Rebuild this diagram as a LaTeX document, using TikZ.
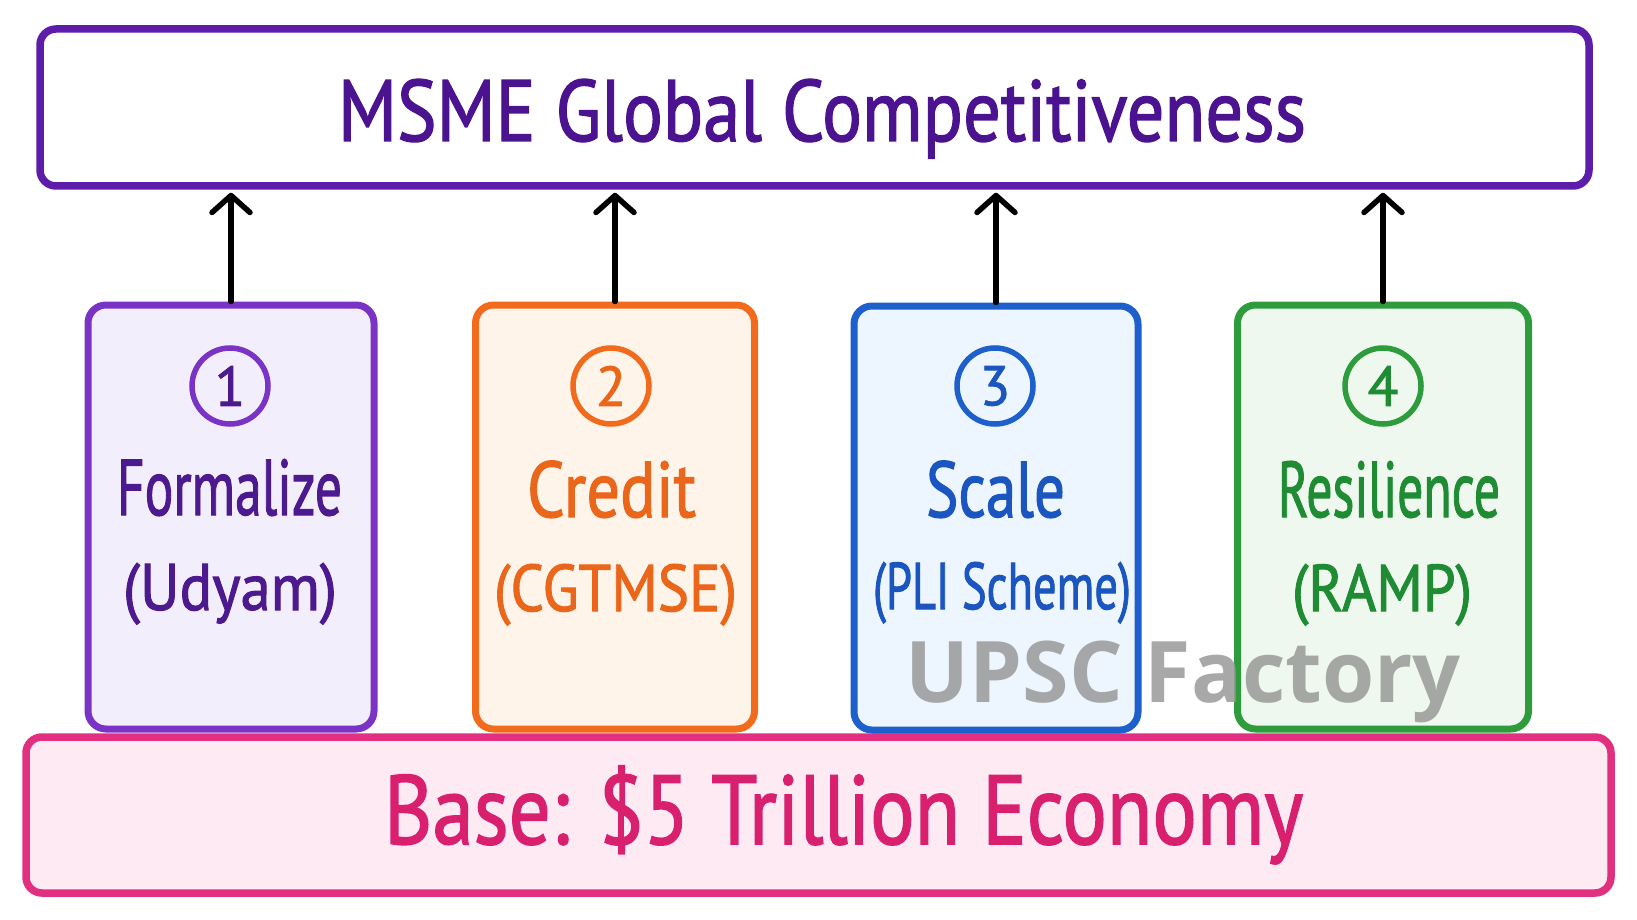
\documentclass[tikz,border=0pt]{standalone}
\usepackage{fontspec}
\usepackage{graphicx}
\setmainfont{PT Sans}[FakeBold=1.6]
\newfontfamily\wmfont{Open Sans}
\usetikzlibrary{arrows.meta}
\definecolor{purpB}{HTML}{5E1CAA}
\definecolor{purpT}{HTML}{4B138F}
\definecolor{oneB}{HTML}{7B33C6}
\definecolor{oneF}{HTML}{F3EEFC}
\definecolor{oneT}{HTML}{4C1A8E}
\definecolor{twoB}{HTML}{F26B1D}
\definecolor{twoF}{HTML}{FFF4EA}
\definecolor{twoT}{HTML}{EA661A}
\definecolor{thrB}{HTML}{1D5FCB}
\definecolor{thrF}{HTML}{EDF5FE}
\definecolor{thrT}{HTML}{1B55C0}
\definecolor{forB}{HTML}{2E9B3C}
\definecolor{forF}{HTML}{EEF8EE}
\definecolor{forT}{HTML}{1F8C34}
\definecolor{pinkB}{HTML}{E0307F}
\definecolor{pinkF}{HTML}{FDEAF3}
\definecolor{pinkT}{HTML}{D8206F}
\definecolor{wmgray}{HTML}{9C9C9C}
\newcommand{\fitw}[2]{\resizebox{#1}{\height}{#2}}
\tikzset{
  panel/.style={draw=#1B, fill=#1F, line width=7pt, rounded corners=18pt, minimum height=424pt, inner sep=0pt},
  numcirc/.style={circle, draw=#1B, text=#1T, line width=5.5pt, minimum size=76pt, inner sep=0pt, font=\fontsize{56}{56}\selectfont},
  lineone/.style={anchor=base, text=#1T, font=\fontsize{79}{79}\selectfont, inner sep=0pt},
  linetwo/.style={anchor=base, text=#1T, font=\fontsize{66}{66}\selectfont, inner sep=0pt},
  uparrow/.style={line width=5.5pt, black, line cap=round, -{Straight Barb[length=17pt,width=38pt,line cap=round,line join=round]}, shorten >=3pt}
}
\begin{document}
\begin{tikzpicture}[x=1pt,y=-1pt]
\useasboundingbox (0,0) rectangle (1637,920);
\fill[white] (0,0) rectangle (1637,920);
% base
\node[draw=pinkB, fill=pinkF, line width=7.5pt, rounded corners=16pt, minimum width=1585pt, minimum height=156pt, inner sep=0pt] (base) at (818.5,815) {};
\node[anchor=base, text=pinkT, font=\fontsize{98}{98}\selectfont, inner sep=0pt] (basetxt) at (843.5,844) {\fitw{919pt}{Base: \$5 Trillion Economy}};
% top
\node[draw=purpB, fill=white, line width=7.5pt, rounded corners=16pt, minimum width=1549pt, minimum height=157pt, inner sep=0pt] (top) at (814.5,107.5) {};
\node[anchor=base, text=purpT, font=\fontsize{87}{87}\selectfont, inner sep=0pt] (title) at (822,141) {\fitw{968pt}{MSME Global Competitiveness}};
% panels
\node[panel=one, minimum width=286pt] (b1) at (231,517) {};
\node[panel=two, minimum width=279pt] (b2) at (615,517) {};
\node[panel=thr, minimum width=284pt] (b3) at (996,518) {};
\node[panel=for, minimum width=291pt] (b4) at (1383,517) {};
% circles
\node[numcirc=one] (c1) at (230,386) {1};
\node[numcirc=two] (c2) at (611,386) {2};
\node[numcirc=thr] (c3) at (995,386) {3};
\node[numcirc=for] (c4) at (1383,386) {4};
% labels
\node[lineone=one] (t1a) at (229.5,515) {\fitw{225pt}{Formalize}};
\node[linetwo=one] (t1b) at (230,610) {\fitw{214pt}{(Udyam)}};
\node[lineone=two] (t2a) at (611.5,517) {\fitw{169pt}{Credit}};
\node[linetwo=two] (t2b) at (615.5,611) {\fitw{243pt}{(CGTMSE)}};
\node[lineone=thr] (t3a) at (995.5,517) {\fitw{139pt}{Scale}};
\node[linetwo=thr] (t3b) at (1002,609) {\fitw{258pt}{(PLI Scheme)}};
\node[lineone=for] (t4a) at (1389,517) {\fitw{222pt}{Resilience}};
\node[linetwo=for] (t4b) at (1382,611) {\fitw{180pt}{(RAMP)}};
% arrows
\draw[uparrow] (b1.north) -- (b1.north |- top.south);
\draw[uparrow] (b2.north) -- (b2.north |- top.south);
\draw[uparrow] (b3.north) -- (b3.north |- top.south);
\draw[uparrow] (b4.north) -- (b4.north |- top.south);
% watermark
\node[anchor=base, text=wmgray, opacity=0.88, font=\wmfont\bfseries\fontsize{85}{85}\selectfont, inner sep=0pt] (wm) at (1183.5,702) {\fitw{555pt}{UPSC Factory}};
\end{tikzpicture}
\end{document}
